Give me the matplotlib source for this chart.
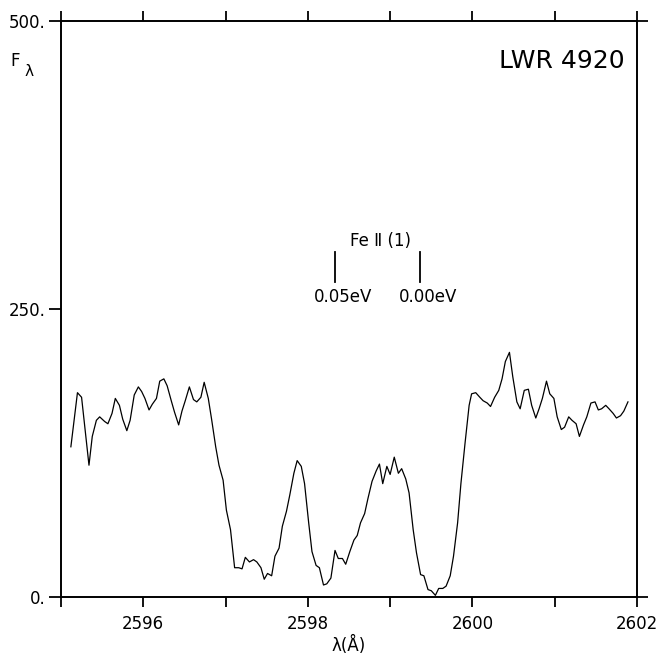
import matplotlib
matplotlib.use("Agg")
import matplotlib.pyplot as plt

wavelength = [
    2595.12, 2595.20, 2595.25, 2595.34, 2595.38, 2595.43, 2595.47, 2595.53, 2595.57, 2595.62,
    2595.66, 2595.71, 2595.75, 2595.80, 2595.84, 2595.89, 2595.94, 2595.98, 2596.02, 2596.07,
    2596.11, 2596.16, 2596.20, 2596.25, 2596.29, 2596.34, 2596.38, 2596.43, 2596.47, 2596.51,
    2596.56, 2596.61, 2596.65, 2596.70, 2596.74, 2596.79, 2596.83, 2596.88, 2596.92, 2596.97,
    2597.01, 2597.06, 2597.11, 2597.16, 2597.20, 2597.24, 2597.29, 2597.34, 2597.38, 2597.43,
    2597.47, 2597.51, 2597.56, 2597.60, 2597.65, 2597.69, 2597.74, 2597.78, 2597.83, 2597.87,
    2597.92, 2597.96, 2598.01, 2598.05, 2598.10, 2598.14, 2598.19, 2598.23, 2598.28, 2598.33,
    2598.37, 2598.42, 2598.46, 2598.51, 2598.56, 2598.60, 2598.64, 2598.69, 2598.73, 2598.78,
    2598.83, 2598.87, 2598.91, 2598.96, 2599.00, 2599.05, 2599.10, 2599.14, 2599.19, 2599.23,
    2599.28, 2599.32, 2599.37, 2599.41, 2599.46, 2599.50, 2599.55, 2599.59, 2599.64, 2599.68,
    2599.73, 2599.77, 2599.82, 2599.86, 2599.91, 2599.96, 2599.99, 2600.04, 2600.09, 2600.13,
    2600.18, 2600.22, 2600.27, 2600.32, 2600.36, 2600.40, 2600.45, 2600.49, 2600.54, 2600.58,
    2600.63, 2600.68, 2600.72, 2600.77, 2600.81, 2600.85, 2600.90, 2600.94, 2600.99, 2601.03,
    2601.08, 2601.12, 2601.17, 2601.21, 2601.26, 2601.30, 2601.35, 2601.39, 2601.44, 2601.49,
    2601.53, 2601.57, 2601.62, 2601.66, 2601.71, 2601.75, 2601.80, 2601.84, 2601.89,
]
flux = [
    130, 177, 173, 114, 139, 153, 156, 152, 150, 159,
    172, 166, 154, 144, 153, 175, 182, 178, 172, 162,
    167, 172, 187, 189, 183, 170, 160, 149, 161, 170,
    182, 171, 169, 173, 186, 172, 154, 130, 114, 101,
    75, 58, 25, 25, 24, 34, 30, 32, 30, 25,
    15, 20, 18, 35, 42, 61, 74, 88, 107, 118,
    113, 98, 64, 39, 27, 25, 10, 11, 16, 40,
    33, 33, 28, 39, 49, 53, 64, 72, 85, 100,
    109, 115, 98, 113, 106, 121, 107, 111, 102, 90,
    58, 38, 19, 18, 6, 5, 1, 7, 7, 9,
    18, 35, 64, 98, 133, 166, 176, 177, 173, 170,
    168, 165, 173, 179, 189, 204, 212, 191, 169, 163,
    179, 180, 166, 155, 163, 172, 187, 176, 172, 156,
    145, 147, 156, 153, 150, 139, 149, 156, 168, 169,
    162, 163, 166, 163, 159, 155, 157, 161, 169,
]

x_ticks = [2595, 2596, 2597, 2598, 2599, 2600, 2601, 2602]
x_ticklabels = ["", "2596", "", "2598", "", "2600", "", "2602"]
y_ticks = [0, 250, 500]
y_ticklabels = ["0.", "250.", "500."]
line_positions = [2598.33, 2599.36]
line_labels = ["0.05eV", "0.00eV"]
multiplet_label = "Fe \u2161 (1)"
spectrum_id = "LWR 4920"

W, H = 662, 656
fig = plt.figure(figsize=(W / 100, H / 100), dpi=100)
plt.rcParams['font.family'] = ['DejaVu Sans']
ax = fig.add_axes([61 / W, 1 - 596.5 / H, (637 - 61) / W, (596.5 - 20.7) / H])

ax.plot(wavelength, flux, color='black', lw=0.9)
ax.set_xlim(2595, 2602)
ax.set_ylim(0, 500)

for s in ax.spines.values():
    s.set_linewidth(1.4)

ax.set_xticks(x_ticks)
ax.set_xticklabels(x_ticklabels)
ax.set_yticks(y_ticks)
ax.set_yticklabels(y_ticklabels)
ax.tick_params(axis='x', direction='out', length=7.5, width=1.3, labelsize=12,
               pad=6, top=True, bottom=True)
ax.tick_params(axis='y', direction='out', length=9, width=1.3, labelsize=12, pad=2)

# right-side ticks at 0 and 500 only
ax2 = ax.twinx()
ax2.set_ylim(0, 500)
ax2.set_yticks([0, 500])
ax2.set_yticklabels([])
ax2.tick_params(axis='y', direction='out', length=8, width=1.3)
for s in ax2.spines.values():
    s.set_visible(False)

ax.set_xlabel("\u03bb(\u00c5)", fontsize=12, labelpad=2)

fig.text(10 / W, 1 - 61 / H, "F", fontsize=12, ha='left', va='center')
fig.text(24 / W, 1 - 71 / H, "\u03bb", fontsize=11, ha='left', va='center')

ax.text(0.978, 0.93, spectrum_id, transform=ax.transAxes, fontsize=18,
        ha='right', va='center')

ax.text(2598.88, 309, multiplet_label, fontsize=12, ha='center', va='center')
for xp, lab in zip(line_positions, line_labels):
    ax.plot([xp, xp], [273, 299], color='black', lw=1.3)
    ax.text(xp + 0.1, 260, lab, fontsize=12, ha='center', va='center')

fig.savefig("out.png", dpi=100)
